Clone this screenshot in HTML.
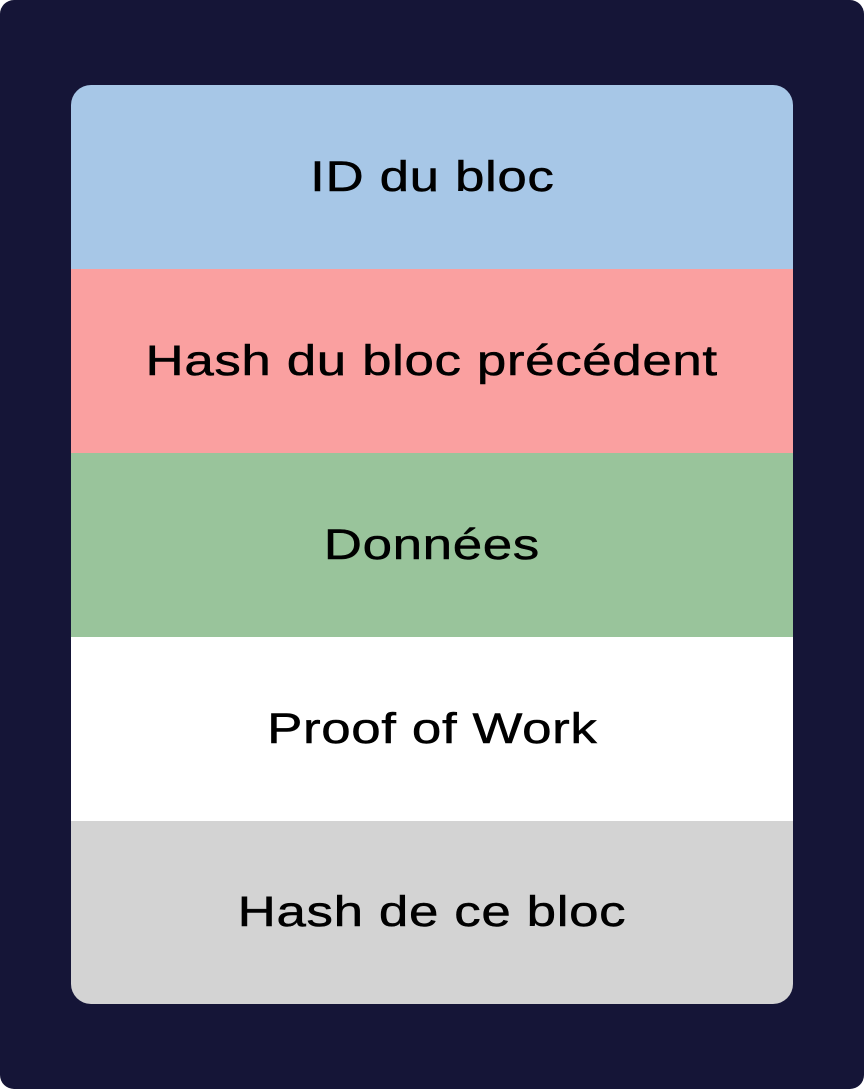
<!DOCTYPE html>
<html><head><meta charset="utf-8"><style>
html,body{margin:0;padding:0;background:#fff;}
.outer{position:absolute;left:0;top:0;width:864px;height:1089px;background:#151537;border-radius:14px;}
.box{position:absolute;left:71px;top:85px;width:722px;height:919px;border-radius:20px;overflow:hidden;}
.band{height:184px;display:flex;align-items:center;justify-content:center;font-family:"Liberation Sans",sans-serif;font-size:43px;color:#000;}
.band span{display:inline-block;transform:scaleX(1.23);letter-spacing:0.5px;white-space:nowrap;-webkit-text-stroke:0.5px #000;}
</style></head><body>
<div class="outer"></div>
<div class="box">
<div class="band" style="background:#a7c7e7"><span>ID du bloc</span></div>
<div class="band" style="background:#faa0a0"><span>Hash du bloc précédent</span></div>
<div class="band" style="background:#99c49b"><span>Données</span></div>
<div class="band" style="background:#ffffff"><span>Proof of Work</span></div>
<div class="band" style="background:#d3d3d3;height:183px"><span>Hash de ce bloc</span></div>
</div>
</body></html>
